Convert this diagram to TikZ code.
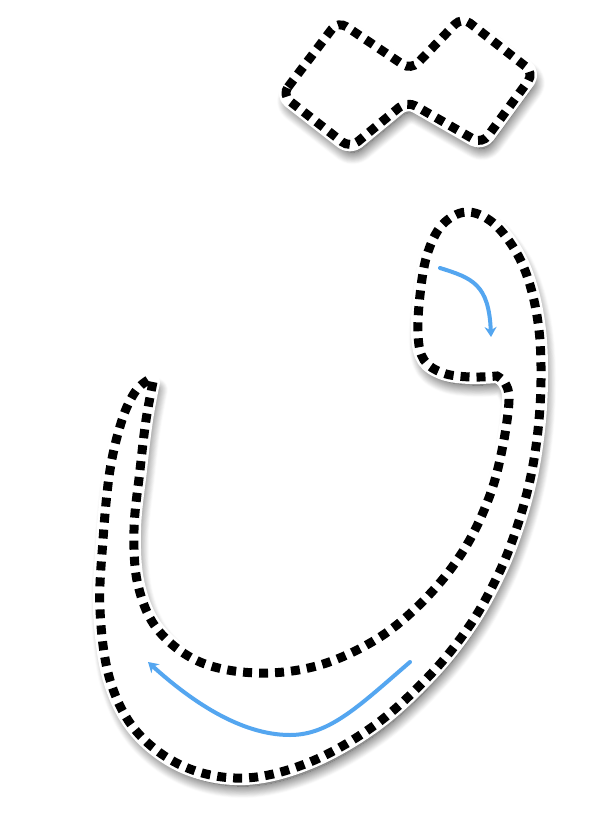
\documentclass[tikz,border=0pt]{standalone}
\usetikzlibrary{arrows.meta,shadows.blur}
\definecolor{guideblue}{RGB}{84,166,240}

\begin{document}
\begin{tikzpicture}[x=1pt,y=-1pt,
  letter/.style={blur shadow={shadow xshift=3pt,shadow yshift=-8pt,shadow blur radius=12pt,shadow blur steps=14,shadow opacity=85},
    preaction={draw=white,line width=14pt,line join=round},
    fill=white,draw=black,line width=9pt,dash pattern=on 9pt off 7pt},
  guide/.style={draw=guideblue,line width=4pt,line cap=round,-{Stealth[length=10pt,width=12pt]}}]
\useasboundingbox (0,0) rectangle (601,823);
\path[letter,rounded corners=10pt] (282,95) -- (338,21) -- (411,70) -- (462,17) -- (534,73) -- (482,144) -- (407,101) -- (350,148) -- cycle;
\path[letter] plot[smooth,tension=0.6] coordinates {(153,382) (146,420) (140,470) (134,530) (138,585) (158,630) (200,662) (258,673) (320,665) (380,637) (428,596) (465,548) (490,495) (503,445) (509,400) (505,383) (497,376)}
  -- plot[smooth,tension=0.6] coordinates {(497,376) (470,377) (443,373) (424,360) (418,335) (420,295) (427,255) (442,225) (466,212) (492,222) (515,250) (530,285) (539,330) (541,380) (538,430) (530,480) (516,530) (498,575) (470,625) (430,675) (375,725) (310,762) (245,778) (185,767) (137,732) (110,680) (100,610) (103,540) (110,470) (122,420) (135,392) (148,380)} -- cycle;
\draw[guide] (440,268) .. controls (472,278) and (489,284) .. (491,337);
\draw[guide] (410,662) .. controls (360,705) and (330,735) .. (290,735) .. controls (240,735) and (190,700) .. (148,662);
\end{tikzpicture}
\end{document}
